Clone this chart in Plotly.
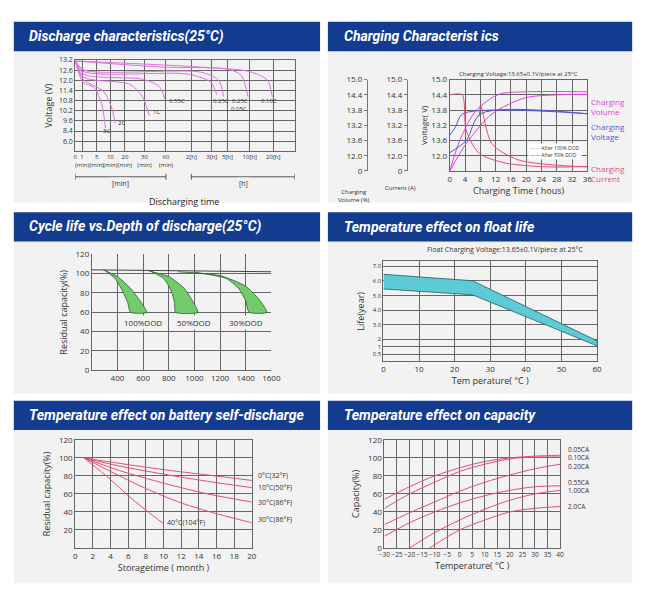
import plotly.graph_objects as go

W, H = 650, 602

# ---- panel 1: discharge characteristics (x = tick position units, y = tick index)
dis_xpos = [0, 7, 22, 36, 51, 71, 93, 119, 140, 156, 179, 203]
dis_xlabels = ["0", "1<br>(min)", "5<br>(min)", "10<br>(min)", "20<br>(min)", "30<br>(min)", "60<br>(min)",
               "2[h]", "3[h]", "5[h]", "10[h]", "20[h]"]
dis_ylabels = ["6.0", "8.4", "9.6", "10.2", "10.8", "11.4", "12.0", "12.6", "13.2"]
dis_curves = {
    "3C": ([0, 8, 19, 27, 31], [7.9, 5.8, 5.3, 3.7, 1.3]),
    "2C": ([0, 8, 29, 37, 41], [7.9, 6.1, 4.9, 3.4, 1.75]),
    "1C": ([0, 9, 56, 69, 76], [7.9, 6.3, 5.6, 4.35, 2.5]),
    "0.55C": ([0, 9, 69, 86, 92], [7.9, 6.6, 6.1, 5.4, 4.15]),
    "0.25C": ([0, 9, 116, 139, 145], [7.9, 6.85, 6.6, 5.8, 4.6]),
    "0.25C b": ([0, 9, 129, 147, 152], [7.9, 7.0, 6.8, 6.0, 4.4]),
    "0.10C": ([0, 90, 156, 170, 177], [7.9, 7.3, 7.1, 6.5, 4.4]),
    "0.05C": ([0, 129, 179, 197, 202], [7.9, 7.3, 6.85, 6.0, 4.35]),
}
dis_labels = [("3C", 26, 1.0), ("2C", 42, 1.8), ("1C", 78, 2.9), ("0.55C", 94, 4.0),
              ("0.25C", 139, 4.0), ("0.25C", 159, 4.0), ("0.05C", 158, 3.2), ("0.10C", 188, 4.0)]

# ---- panel 2: charging characteristics (y = tick index)
chg_ylabels = ["0", "12.0", "13.6", "13.2", "13.8", "14.4", "15.0"]
chg_volume_a = ([0, 2.6, 6.8, 12.8, 20.4, 36], [0, 2.0, 3.95, 5.03, 5.2, 5.2])
chg_volume_b = ([0, 4.3, 11, 19.6, 28, 36], [0, 1.8, 3.74, 4.8, 5.0, 5.03])
chg_voltage_a = ([0, 1.5, 3.4, 36], [2.34, 2.9, 3.76, 3.76])
chg_voltage_b = ([0, 4.3, 8.1, 36], [1.2, 2.0, 3.76, 3.76])
chg_current_a = ([0, 3.2, 4.3, 7.7, 14.5, 26.3, 36], [5.0, 5.0, 2.66, 1.16, 0.52, 0.26, 0.3])
chg_current_b = ([7.7, 8.1, 11, 17.9, 36], [3.6, 4.3, 1.8, 0.73, 0.26])

# ---- panel 3: cycle life
dod_names = ["100%DOD", "50%DOD", "30%DOD"]
dod_outer_x = [[290, 400, 500, 570, 627], [640, 800, 920, 980, 1027], [870, 1200, 1400, 1500, 1565]]
dod_outer_y = [[104, 97, 85, 73, 60], [103, 97, 85, 73, 60], [102, 98, 87, 74, 60]]
dod_inner_x = [[300, 380, 440, 480, 502], [660, 760, 820, 845, 853], [1000, 1250, 1350, 1400, 1427]]
dod_inner_y = [[103.5, 95, 82, 70, 60], [102.5, 95, 82, 70, 60], [101.5, 95, 84, 72, 60]]
dod_base_x = [200, 1600]
dod_base_y = [104, 102]
dod_label_x = [600, 1000, 1400]

# ---- panel 4: float life (y = position units)
float_ypos = [1, 1.5, 2, 3, 4, 5, 6, 7]
float_ylabels = ["0.5", "1", "2", "3.0", "4.0", "5.0", "6.0", "7.0"]
float_temp = [0, 25, 60]
float_upper = [6.44, 6.0, 1.9]
float_lower = [5.44, 5.04, 1.56]

# ---- panel 5: self-discharge
sd_series = [
    ("0°C(32°F)", [1, 5, 10, 15, 20], [100, 94, 87, 81, 75], 80),
    ("10°C(50°F)", [1, 5, 10, 15, 20], [100, 91, 82, 74, 67], 67),
    ("30°C(86°F)", [1, 5, 10, 15, 20], [100, 86, 72, 60, 51], 51),
    ("30°C(86°F)", [1, 4, 8, 12, 16, 20], [100, 85, 66, 50, 38, 28], 32),
    ("40°C(104°F)", [1, 2, 4, 6, 8, 10], [100, 92, 76, 58, 42, 27], None),
]

# ---- panel 6: temperature vs capacity
cap_series = [
    ("0.05CA", [-30, -20, -10, 0, 10, 20, 30, 40], [54, 68, 80, 89, 96, 100, 102, 103], 109),
    ("0.10CA", [-30, -20, -10, 0, 10, 20, 30, 40], [44, 60, 73, 85, 93, 99, 101, 101], 100),
    ("0.20CA", [-30, -20, -10, 0, 10, 20, 30, 40], [26, 39, 51, 63, 73, 81, 88, 93], 91),
    ("0.55CA", [-30, -20, -10, 0, 10, 20, 30, 40], [13, 28, 40, 50, 58, 64, 68, 69], 73),
    ("1.00CA", [-20, -10, 0, 10, 20, 30, 40], [0, 17, 31, 43, 53, 60, 64], 64),
    ("2.0CA", [-12, 0, 10, 20, 30, 40], [0, 20, 31, 40, 44, 46], 46),
]

PINK = "#e070e0"
RED = "#e05070"
GRID = "#666666"
FONT = "Open Sans"

fig = go.Figure()


def dom(x0, x1, y0, y1):
    return [x0 / W, x1 / W], [1 - y1 / H, 1 - y0 / H]


def ax(domain, **kw):
    d = dict(domain=domain, showgrid=True, gridcolor=GRID, gridwidth=1, showline=True, linecolor=GRID,
             mirror=True, zeroline=False, ticks="", tickfont=dict(size=8, color="#333"), fixedrange=True,
             tickangle=0)
    d.update(kw)
    return d


def line(x, y, xa, ya, color, width=1, **kw):
    fig.add_trace(go.Scatter(x=x, y=y, xaxis=xa, yaxis=ya, mode="lines", showlegend=False, hoverinfo="skip",
                             line=dict(color=color, width=width, shape="spline", smoothing=0.8), **kw))


layout_axes = {}
ann = []
shapes = []

# background panels
panels = [
    (8, 322, 16, 200, "Discharge characteristics(25°C)"),
    (330, 642, 16, 200, "Charging Characterist ics"),
    (8, 322, 210, 395, "Cycle life vs.Depth of discharge(25°C)"),
    (330, 642, 210, 395, "Temperature effect on float life"),
    (8, 322, 402, 588, "Temperature effect on battery self-discharge"),
    (330, 642, 402, 588, "Temperature effect on capacity"),
]
for x0, x1, y0, y1, title in panels:
    shapes.append(dict(type="rect", xref="paper", yref="paper", x0=x0 / W, x1=x1 / W, y0=1 - y1 / H,
                       y1=1 - (y0 + 28) / H, fillcolor="#f2f2f2", line_width=0, layer="below"))
    shapes.append(dict(type="rect", xref="paper", yref="paper", x0=x0 / W, x1=x1 / W, y0=1 - (y0 + 30) / H,
                       y1=1 - y0 / H, fillcolor="#133c90", line_width=0, layer="below"))
    ann.append(dict(xref="paper", yref="paper", x=(x0 + 14) / W, y=1 - (y0 + 15) / H, xanchor="left",
                    yanchor="middle", showarrow=False, text="<b><i>" + title + "</i></b>",
                    font=dict(family="Roboto", size=14, color="white")))

# panel 1
xd, yd = dom(71, 296, 55, 148)
layout_axes["xaxis"] = ax(xd, anchor="y", range=[0, 225], tickvals=dis_xpos, ticktext=dis_xlabels,
                          tickfont=dict(size=6, color="#333"))
layout_axes["yaxis"] = ax(yd, anchor="x", range=[-1, 8], tickvals=list(range(9)), ticktext=dis_ylabels,
                          tickfont=dict(size=7, color="#333"),
                          title=dict(text="Voltage (V)", font=dict(size=9), standoff=4))
for name, (x, y) in dis_curves.items():
    line(x, y, "x", "y", PINK)
for t, x, y in dis_labels:
    ann.append(dict(xref="x", yref="y", x=x, y=y, text=t, showarrow=False, xanchor="left",
                    font=dict(size=6, color="#333")))
for a, b, t in [(0, 93, "[min]"), (119, 225, "[h]")]:
    shapes.append(dict(type="line", xref="x", yref="paper", x0=a, x1=b, y0=1 - 174 / H, y1=1 - 174 / H,
                       line=dict(color="#555", width=1)))
    for e in (a, b):
        shapes.append(dict(type="line", xref="x", yref="paper", x0=e, x1=e, y0=1 - 171 / H, y1=1 - 177 / H,
                           line=dict(color="#555", width=1)))
    ann.append(dict(xref="x", yref="paper", x=(a + b) / 2, y=1 - 174 / H, text=t, showarrow=False,
                    xanchor="center", bgcolor="#f2f2f2", font=dict(size=7, color="#333")))
ann.append(dict(xref="paper", yref="paper", x=183 / W, y=1 - 190 / H, text="Discharging time", showarrow=False,
                xanchor="center", font=dict(size=9, color="#222")))

# panel 2
xd, yd = dom(455, 596, 75, 168)
layout_axes["xaxis2"] = ax(xd, anchor="y2", range=[0, 36], dtick=4,
                           title=dict(text="Charging Time ( hous)", font=dict(size=9), standoff=4))
layout_axes["yaxis2"] = ax(yd, anchor="x2", range=[0, 6], tickvals=list(range(1, 7)), ticktext=chg_ylabels[1:],
                           title=dict(text="Voltage( V)", font=dict(size=8), standoff=2))
for i, p in ((7, 370), (8, 411)):
    layout_axes["yaxis%d" % i] = dict(domain=yd, overlaying="y2", anchor="free", position=p / W, range=[0, 6],
                                      tickvals=list(range(7)), ticktext=chg_ylabels, showline=True,
                                      linecolor="#777", ticks="outside", ticklen=3, tickcolor="#777",
                                      showgrid=False, zeroline=False, tickfont=dict(size=8, color="#333"),
                                      fixedrange=True)
    fig.add_trace(go.Scatter(x=[0], y=[0], xaxis="x2", yaxis="y%d" % i, mode="markers", opacity=0,
                             showlegend=False, hoverinfo="skip"))
for x, y in (chg_volume_a, chg_volume_b):
    line(x, y, "x2", "y2", "#e040e0")
for x, y in (chg_voltage_a, chg_voltage_b):
    line(x, y, "x2", "y2", "#5555d5")
for x, y in (chg_current_a, chg_current_b):
    line(x, y, "x2", "y2", RED)
ann += [
    dict(xref="paper", yref="paper", x=525 / W, y=1 - 63 / H, text="Charging Voltage:13.65±0.1V/piece at 25°C",
         xanchor="center", showarrow=False, font=dict(size=6, color="#333")),
    dict(xref="paper", yref="paper", x=598 / W, y=1 - 90 / H, xanchor="left", text="Charging<br>Volume",
         showarrow=False, align="left", font=dict(size=8, color="#e040e0")),
    dict(xref="paper", yref="paper", x=598 / W, y=1 - 115 / H, xanchor="left", text="Charging<br>Voltage",
         showarrow=False, align="left", font=dict(size=8, color="#5555d5")),
    dict(xref="paper", yref="paper", x=598 / W, y=1 - 158 / H, xanchor="left", text="Charging<br>Current",
         showarrow=False, align="left", font=dict(size=8, color=RED)),
    dict(xref="paper", yref="paper", x=591 / W, y=1 - 140 / H, xanchor="right",
         text="<span style='color:#aaa'>——</span> After 100% DOD<br><span style='color:#555'>——</span> After 50% DOD",
         showarrow=False, align="left", bgcolor="white", font=dict(size=5, color="#333")),
    dict(xref="paper", yref="paper", x=357 / W, y=1 - 183 / H, text="Charging<br>Volume (%)",
         xanchor="center", showarrow=False, font=dict(size=6, color="#333")),
    dict(xref="paper", yref="paper", x=404 / W, y=1 - 179 / H, text="Current (A)",
         xanchor="center", showarrow=False, font=dict(size=6, color="#333")),
]

# panel 3
xd, yd = dom(88, 272, 253, 371)
layout_axes["xaxis3"] = ax(xd, anchor="y3", range=[200, 1600], tickvals=[400, 600, 800, 1000, 1200, 1400, 1600],
                           mirror=False)
layout_axes["yaxis3"] = ax(yd, anchor="x3", range=[0, 120], dtick=20, mirror=False,
                           title=dict(text="Residual capacity(%)", font=dict(size=9), standoff=6))
line(dod_base_x, dod_base_y, "x3", "y3", "#444", 1)
for i in range(3):
    fx = dod_outer_x[i] + dod_inner_x[i][::-1]
    fy = dod_outer_y[i] + dod_inner_y[i][::-1]
    fig.add_trace(go.Scatter(x=fx, y=fy, xaxis="x3", yaxis="y3", mode="lines", fill="toself",
                             fillcolor="#72cc6c", line=dict(color="#2f5a2f", width=0.8, shape="spline", smoothing=0.6),
                             showlegend=False, hoverinfo="skip"))
    ann.append(dict(xref="x3", yref="y3", x=dod_label_x[i], y=49, text=dod_names[i], showarrow=False,
                    xanchor="center", bgcolor="#f2f2f2", font=dict(size=8, color="#333")))

# panel 4
xd, yd = dom(387, 606, 260, 362)
layout_axes["xaxis4"] = ax(xd, anchor="y4", range=[0, 60], dtick=10,
                           title=dict(text="Tem perature( °C )", font=dict(size=9), standoff=4))
layout_axes["yaxis4"] = ax(yd, anchor="x4", range=[0.5, 7.33], tickvals=float_ypos, ticktext=float_ylabels,
                           tickfont=dict(size=6, color="#333"),
                           title=dict(text="Life(year)", font=dict(size=9), standoff=6))
fig.add_trace(go.Scatter(x=float_temp + float_temp[::-1], y=float_upper + float_lower[::-1], xaxis="x4",
                         yaxis="y4", mode="lines", fill="toself", fillcolor="#5ccbd6",
                         line=dict(color="#2a5a60", width=0.8), showlegend=False, hoverinfo="skip"))
ann.append(dict(xref="paper", yref="paper", x=512 / W, y=1 - 248 / H, xanchor="center",
                text="Float Charging Voltage:13.65±0.1V/piece at 25°C", showarrow=False,
                font=dict(size=7, color="#333")))

# panel 5
xd, yd = dom(71, 252, 442, 552)
layout_axes["xaxis5"] = ax(xd, anchor="y5", range=[0, 20], dtick=2,
                           title=dict(text="Storagetime ( month )", font=dict(size=9), standoff=4))
layout_axes["yaxis5"] = ax(yd, anchor="x5", range=[0, 120], tickvals=[20, 40, 60, 80, 100, 120],
                           title=dict(text="Residual capacity(%)", font=dict(size=9), standoff=6))
for name, x, y, ly in sd_series:
    line(x, y, "x5", "y5", RED)
    if ly is None:
        ann.append(dict(xref="x5", yref="y5", x=x[-1] + 0.2, y=y[-1] + 1, text=name, xanchor="left",
                        showarrow=False, font=dict(size=7, color="#333")))
    else:
        ann.append(dict(xref="paper", yref="y5", x=256 / W, y=ly, text=name, xanchor="left",
                        showarrow=False, font=dict(size=7, color="#333")))

# panel 6
xd, yd = dom(388, 568, 442, 552)
layout_axes["xaxis6"] = ax(xd, anchor="y6", range=[-30, 40], dtick=5, tickfont=dict(size=6.5, color="#333"),
                           title=dict(text="Temperature( °C )", font=dict(size=9), standoff=4))
layout_axes["yaxis6"] = ax(yd, anchor="x6", range=[0, 120], dtick=20,
                           title=dict(text="Capacity(%)", font=dict(size=9), standoff=6))
for name, x, y, ly in cap_series:
    line(x, y, "x6", "y6", RED)
    ann.append(dict(xref="paper", yref="y6", x=574 / W, y=ly, text=name, xanchor="left",
                    showarrow=False, font=dict(size=6.5, color="#333")))

fig.update_layout(width=W, height=H, margin=dict(l=0, r=0, t=0, b=0), paper_bgcolor="white",
                  plot_bgcolor="rgba(0,0,0,0)", font=dict(family=FONT, color="#333"),
                  annotations=ann, shapes=shapes, **layout_axes)
fig.write_html("out.html", config={"displayModeBar": False},
               post_script="document.body.style.margin='0';document.body.style.overflow='hidden';")
